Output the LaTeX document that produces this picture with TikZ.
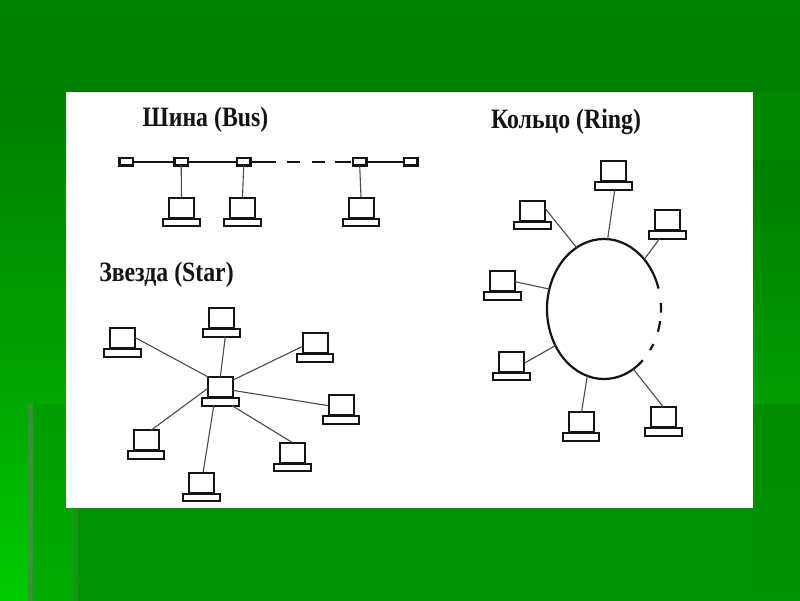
\documentclass[tikz,border=0pt]{standalone}
\usepackage{fontspec}
\setmainfont{Liberation Serif}
\usetikzlibrary{shapes.geometric}
\definecolor{topA}{HTML}{008400}
\definecolor{topB}{HTML}{007E00}
\definecolor{leftB}{HTML}{00A800}
\definecolor{leftC}{HTML}{00CC00}
\definecolor{midA}{HTML}{009E00}
\definecolor{midB}{HTML}{00AA00}
\definecolor{rightA}{HTML}{008600}
\definecolor{rightB}{HTML}{007E00}
\definecolor{rightC}{HTML}{009C00}
\definecolor{lowA}{HTML}{008C00}
\definecolor{lowB}{HTML}{009200}
\definecolor{wire}{HTML}{4A4A4A}
\definecolor{inkc}{HTML}{141414}
\tikzset{
  monitor/.style={draw=inkc,fill=white,line width=2pt,minimum width=25pt,minimum height=20pt,inner sep=0pt,outer sep=0pt},
  kbd/.style={draw=inkc,fill=white,line width=2pt,minimum width=36.5pt,minimum height=7.5pt,inner sep=0pt,outer sep=0pt},
  tap/.style={draw=inkc,fill=white,line width=2.2pt,minimum width=13.5pt,minimum height=7.5pt,inner sep=0pt,outer sep=0pt},
  wireline/.style={draw=wire,line width=1.1pt},
  busline/.style={draw=inkc,line width=2.2pt},
  ringline/.style={draw=inkc,line width=2.2pt},
  caption/.style={inner sep=0pt,text=inkc,font=\bfseries\fontsize{28}{28}\selectfont}
}
\newcommand{\laptop}[3]{%
  \node[monitor] (#1) at (#2,#3) {};
  \node[kbd] (#1b) at (#2,#3+15) {};
}
\newcommand{\squeezed}[1]{\scalebox{0.85}[1]{#1}}
\begin{document}
\begin{tikzpicture}[x=1pt,y=-1pt]
% background
\begin{scope}
\clip (0,0) rectangle (800,600);
\fill[lowB] (-5,-5) rectangle (805,605);
\shade[top color=topA,bottom color=topB] (-5,-5) rectangle (805,92.5);
\shade[top color=topB,bottom color=leftB] (-5,92) rectangle (66,404.5);
\shade[top color=leftB,bottom color=leftC] (-5,404) rectangle (28.5,605);
\shade[top color=midA,bottom color=midB] (28,404) rectangle (73.5,605);
\fill[rightA] (753,92) rectangle (805,160.5);
\shade[top color=rightB,bottom color=rightC] (753,160) rectangle (805,404.5);
\shade[top color=lowA,bottom color=lowB] (753,404) rectangle (805,605);
\fill[gray!60!midA,opacity=.8] (28,404) rectangle (33,605);
\fill[gray!30!midA,opacity=.6] (73,508) rectangle (78,605);
\end{scope}
\useasboundingbox (0,0) rectangle (800,600);
\fill[white] (65.5,92) rectangle (753,508);
% captions
\node[caption] (tbus) at (205.5,120) {\squeezed{Шина (Bus)}};
\node[caption] (tring) at (566,122) {\squeezed{Кольцо (Ring)}};
\node[caption] (tstar) at (166.5,275) {\squeezed{Звезда (Star)}};
% bus
\node[tap] (b1) at (126.3,161.7) {};
\node[tap] (b2) at (181.2,161.7) {};
\node[tap] (b3) at (243.7,161.7) {};
\node[tap] (b4) at (359.7,161.7) {};
\node[tap] (b5) at (410.8,161.7) {};
\draw[busline] (b1) -- (b2);
\draw[busline] (b2) -- (b3);
\draw[busline,dash pattern=on 25.6pt off 11pt on 13.4pt off 11.6pt on 13.4pt off 10pt on 16pt] (b3.east) -- (b4.west);
\draw[busline] (b4) -- (b5);
\laptop{p1}{181.5}{207.5}
\laptop{p2}{242.5}{207.5}
\laptop{p3}{361}{207.5}
\draw[wireline] (b2.south) -- (p1.north);
\draw[wireline] (b3.south) -- (p2.north);
\draw[wireline] (b4.south) -- (p3.north);
% ring
\node[ellipse,minimum width=114pt,minimum height=140pt,inner sep=0pt,outer sep=0pt] (ring) at (604,309) {};
\begin{scope}[x=1pt,y=1pt,shift={(ring.center)}]
\draw[ringline] (17:57 and 70) arc[start angle=17,end angle=313,x radius=57,y radius=70];
\draw[ringline] (5:57 and 70) arc[start angle=5,end angle=-3,x radius=57,y radius=70];
\draw[ringline] (-10:57 and 70) arc[start angle=-10,end angle=-19,x radius=57,y radius=70];
\draw[ringline] (-30:57 and 70) arc[start angle=-30,end angle=-36,x radius=57,y radius=70];
\end{scope}
\laptop{r1}{613.3}{171}
\laptop{r2}{532.7}{210.5}
\laptop{r3}{667.3}{220}
\laptop{r4}{502.7}{281}
\laptop{r5}{511.7}{361.5}
\laptop{r6}{581}{422}
\laptop{r7}{663.3}{417}
\draw[wireline] (r1b.-69) -- (ring.87);
\draw[wireline] (r2.9) -- (ring.114);
\draw[wireline] (r3b.206) -- (ring.51);
\draw[wireline] (r4.-3) -- (ring.160.8);
\draw[wireline] (r5.-8) -- (ring.217.5);
\draw[wireline] (r6.87) -- (ring.256);
\draw[wireline] (r7.90) -- (ring.296.3);
% star
\laptop{s0}{220.3}{386.8}
\laptop{s1}{221.7}{317.8}
\laptop{s2}{122.3}{338}
\laptop{s3}{315}{342.8}
\laptop{s4}{341}{404.8}
\laptop{s5}{292.3}{452.5}
\laptop{s6}{201.7}{482.5}
\laptop{s7}{146}{440}
\draw[wireline] (s1b.-46) -- (s0.north);
\draw[wireline] (s2.3) -- (s0.north west);
\draw[wireline] (s3.196) -- (s0.28.7);
\draw[wireline] (s4.184) -- (s0.-16);
\draw[wireline] (s5.90) -- (s0b.-18);
\draw[wireline] (s6.82) -- (s0b.-150);
\draw[wireline] (s7.62) -- (s0.187);
\end{tikzpicture}
\end{document}
